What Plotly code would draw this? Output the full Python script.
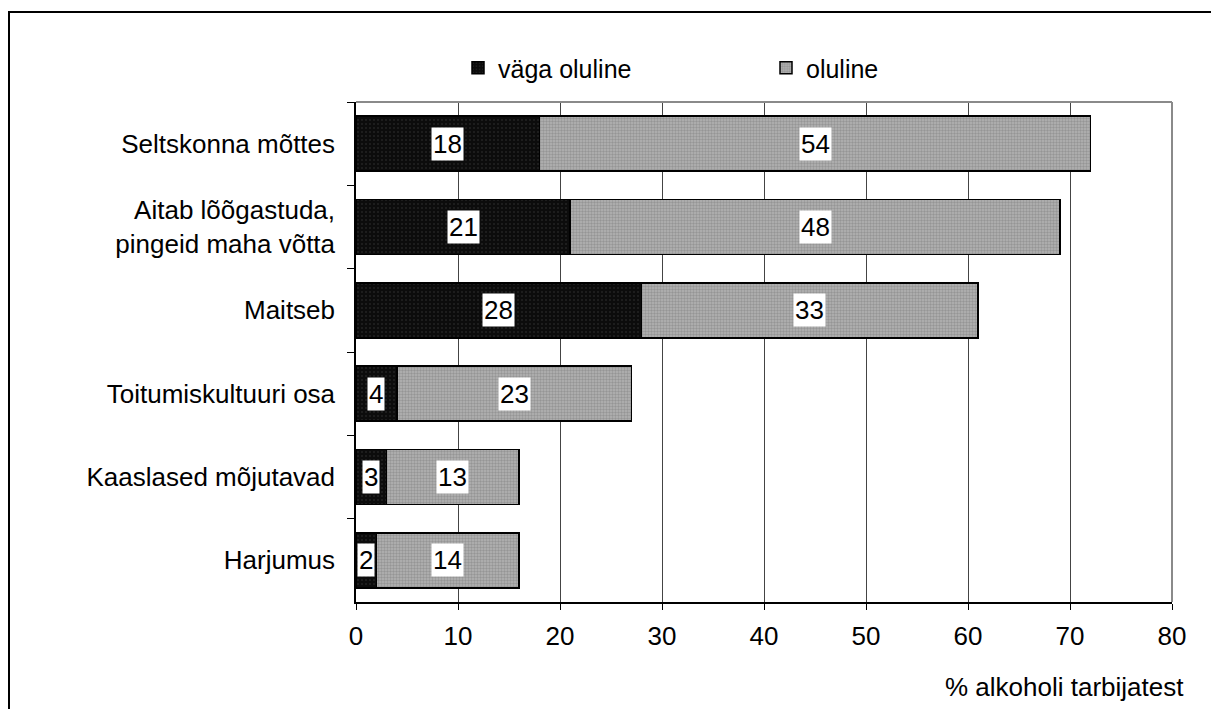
import plotly.graph_objects as go

categories = ["Seltskonna mõttes", "Aitab lõõgastuda,<br>pingeid maha võtta", "Maitseb",
              "Toitumiskultuuri osa", "Kaaslased mõjutavad", "Harjumus"]
vaga_oluline = [18, 21, 28, 4, 3, 2]
oluline = [54, 48, 33, 23, 13, 14]
series_names = ["väga oluline", "oluline"]
x_ticks = [0, 10, 20, 30, 40, 50, 60, 70, 80]
x_title = "% alkoholi tarbijatest"

FONT = "Liberation Sans, Arial, sans-serif"
FS = 26
FSL = 25
OFF = 8  # page body margin offset
W, H = 1219, 709
# plot area in screen px: x 356..1172, y 102..602
L, T = 356 - OFF, 102 - OFF
R = W - (1172 - OFF)
B = H - (602 - OFF)
pw, ph = W - L - R, H - T - B

def px_x(sx):
    return (sx - OFF - L) / pw

def px_y(sy):
    return (H - B - (sy - OFF)) / ph

fig = go.Figure()
fig.add_trace(go.Bar(
    y=categories, x=vaga_oluline, orientation="h", name=series_names[0],
    marker=dict(color="#151515", line=dict(color="black", width=1.5),
                pattern=dict(shape=".", fgcolor="#3a3a3a", bgcolor="#0c0c0c", size=4, solidity=0.2)),
))
fig.add_trace(go.Bar(
    y=categories, x=oluline, orientation="h", name=series_names[1],
    marker=dict(color="#a4a4a4", line=dict(color="black", width=1.5),
                pattern=dict(shape=".", fgcolor="#767676", bgcolor="#b4b4b4", size=3, solidity=0.5)),
))

annotations = []
for cat, a, b in zip(categories, vaga_oluline, oluline):
    for val, mid in ((a, a / 2), (b, a + b / 2)):
        annotations.append(dict(x=mid, y=cat, xref="x", yref="y", text=str(val), showarrow=False,
                                font=dict(family=FONT, size=FS, color="black"),
                                bgcolor="white", borderpad=1, xanchor="center", yanchor="middle"))
annotations.append(dict(x=px_x(1186), y=px_y(687), xref="paper", yref="paper", text=x_title, showarrow=False,
                        font=dict(family=FONT, size=FS, color="black"), xanchor="right", yanchor="middle"))

shapes = [
    dict(type="rect", xref="paper", yref="paper", x0=px_x(9), x1=px_x(1240), y0=px_y(730), y1=px_y(12),
         line=dict(color="black", width=2), layer="below"),
    dict(type="line", xref="paper", yref="paper", x0=0, x1=1, y0=1, y1=1,
         line=dict(color="#8a8a8a", width=2)),
    dict(type="line", xref="paper", yref="paper", x0=1, x1=1, y0=0, y1=1,
         line=dict(color="#8a8a8a", width=2)),
]

fig.update_layout(
    width=W, height=H,
    barmode="stack", bargap=0.34,
    paper_bgcolor="white", plot_bgcolor="white",
    margin=dict(l=L, r=R, t=T, b=B, pad=0),
    font=dict(family=FONT, size=FS, color="black"),
    showlegend=True,
    legend=dict(orientation="h", x=px_x(458), y=px_y(68), xanchor="left", yanchor="middle",
                entrywidth=263, entrywidthmode="pixels", traceorder="normal",
                font=dict(family=FONT, size=FSL), itemwidth=30, bgcolor="rgba(0,0,0,0)"),
    annotations=annotations,
    shapes=shapes,
)
fig.update_xaxes(range=[0, 80], tickvals=x_ticks, showgrid=True, gridcolor="#444444", gridwidth=1,
                 showline=True, linecolor="black", linewidth=1.5, ticks="outside", ticklen=6,
                 tickcolor="black", tickfont=dict(family=FONT, size=FS), zeroline=False,
                 ticklabelstandoff=4)
fig.update_yaxes(autorange="reversed", tickson="boundaries", ticks="outside", ticklen=7, tickcolor="black",
                 showline=True, linecolor="black", linewidth=1.5, showgrid=False,
                 tickfont=dict(family=FONT, size=FS), ticklabelstandoff=14)

fig.write_html("out.html")
